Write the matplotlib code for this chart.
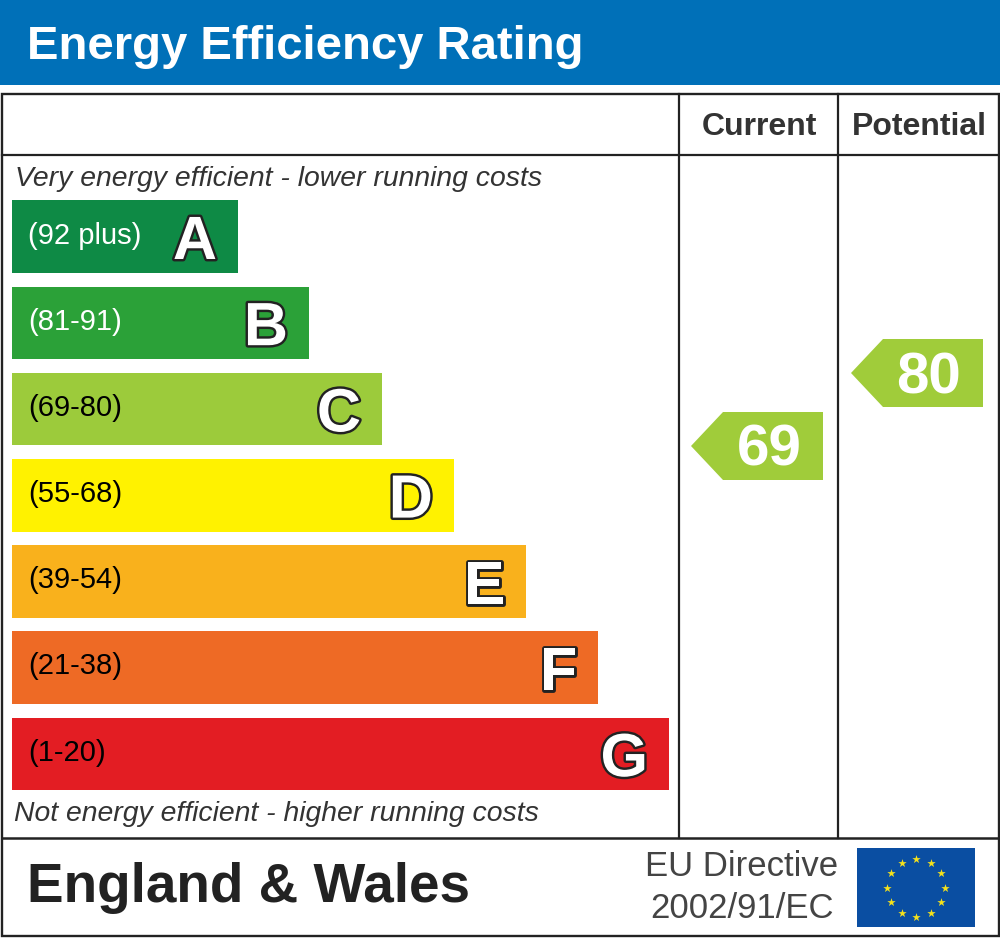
# EPC energy efficiency chart
import matplotlib
matplotlib.use('Agg')
import matplotlib.pyplot as plt
import matplotlib.patheffects as pe
from matplotlib.patches import Rectangle, Polygon
import numpy as np

bands = ['A', 'B', 'C', 'D', 'E', 'F', 'G']
ranges = ['(92 plus)', '(81-91)', '(69-80)', '(55-68)', '(39-54)', '(21-38)', '(1-20)']
bar_ends = [238, 309, 382, 454, 526, 598, 669]
colors = ['#0e8a45', '#2ba138', '#9ccb3b', '#fff200', '#f9b11c', '#ee6a25', '#e31d23']
range_colors = ['white', 'white', 'black', 'black', 'black', 'black', 'black']
current = 69
potential = 80
arrow_color = '#a0cc3a'
header_blue = '#0070b8'

plt.rcParams['font.family'] = ['Liberation Sans', 'DejaVu Sans']

fig = plt.figure(figsize=(10, 9.38), dpi=100)
ax = fig.add_axes([0, 0, 1, 1])
ax.set_xlim(0, 1000)
ax.set_ylim(938, 0)
ax.axis('off')

# header
ax.add_patch(Rectangle((0, 0), 1000, 85, color=header_blue, lw=0))
ax.text(27, 47, 'Energy Efficiency Rating', color='white', fontsize=34, fontweight='bold', va='center')

# frame
line = '#222222'
ax.add_patch(Rectangle((2, 94), 997, 842, fill=False, ec=line, lw=1.7))
ax.plot([2, 999], [155, 155], color=line, lw=1.6)
ax.plot([2, 999], [838, 838], color=line, lw=1.8)
ax.plot([679, 679], [94, 838], color=line, lw=1.6)
ax.plot([838, 838], [94, 838], color=line, lw=1.6)

ax.text(759, 127, 'Current', ha='center', va='center', fontsize=23, fontweight='bold', color='#333333')
ax.text(919, 127, 'Potential', ha='center', va='center', fontsize=23, fontweight='bold', color='#333333')

ax.text(15, 179, 'Very energy efficient - lower running costs', fontsize=20.4, style='italic', va='center', color='#333333')
ax.text(14, 814, 'Not energy efficient - higher running costs', fontsize=20.4, style='italic', va='center', color='#333333')

# bars
for i, band in enumerate(bands):
    top = 200.5 + i * 86.2
    ax.add_patch(Rectangle((12, top), bar_ends[i] - 12, 72.5, color=colors[i], lw=0))
    ax.text(28, top + 35, ranges[i], fontsize=21, va='center', color=range_colors[i])
    t = ax.text(bar_ends[i] - 21, top + 43, band, fontsize=44, fontweight='bold', ha='right', va='center', color='white')
    t.set_path_effects([pe.withStroke(linewidth=3.5, foreground='#222222')])

# rating arrows
def rating_arrow(left, right, mid, value):
    ax.add_patch(Polygon([(left, mid), (left + 32, mid - 34), (right, mid - 34), (right, mid + 34), (left + 32, mid + 34)],
                         closed=True, color=arrow_color, lw=0))
    ax.text((left + right) / 2 + 12, mid + 5, str(value), color='white', fontsize=42, fontweight='bold', ha='center', va='center')

rating_arrow(691, 823, 446, current)
rating_arrow(851, 983, 373, potential)

# footer
ax.text(27, 888, 'England & Wales', fontsize=39.5, fontweight='bold', va='center', color='#222222')
ax.text(742, 867, 'EU Directive', fontsize=25, ha='center', va='center', color='#444444')
ax.text(742, 909, '2002/91/EC', fontsize=25, ha='center', va='center', color='#444444')

# flag
ax.add_patch(Rectangle((857, 848), 118, 79, color='#0a4ea2', lw=0))
angles = np.deg2rad(np.arange(0, 360, 30))
ax.scatter(916 + 29 * np.sin(angles), 888 - 29 * np.cos(angles), marker='*', s=40, color='#f5e11c', linewidths=0)

fig.savefig('out.png', dpi=100)
